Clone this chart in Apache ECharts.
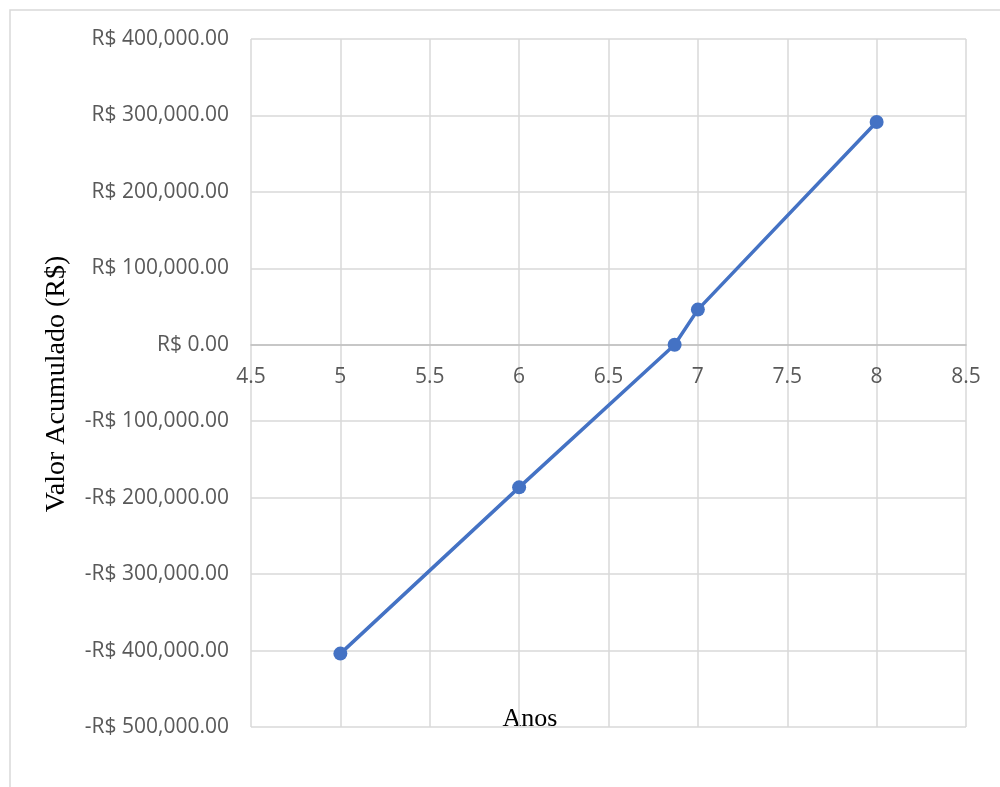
<!DOCTYPE html>
<html>
<head>
<meta charset="utf-8">
<script src="https://cdn.jsdelivr.net/npm/echarts@6/dist/echarts.min.js"></script>
<style>
  html, body { margin: 0; padding: 0; background: #fff; }
  #chart { width: 1000px; height: 787px; }
</style>
</head>
<body>
<div id="chart"></div>
<script>
// Anos (anos de projeto) e valor acumulado correspondente
const anos = [5, 6, 6.87, 7, 8];
const valorAcumulado = [-404000, -186500, 0, 46000, 291500];

const xTitulo = 'Anos';
const yTitulo = 'Valor Acumulado (R$)';

const yMin = -500000, yMax = 400000;
const gridTop = 39, gridBottom = 60, chartHeight = 787;

function formatReal(v) {
  const abs = Math.abs(v);
  const txt = abs === 0 ? '0.00' : abs.toLocaleString('en-US', { minimumFractionDigits: 2, maximumFractionDigits: 2 });
  return (v < 0 ? '-' : '') + 'R$ ' + txt;
}

// distance from the bottom of the grid up to the zero line, so the x axis crosses at 0
const gridH = chartHeight - gridTop - gridBottom;
const zeroOffset = gridH * (0 - yMin) / (yMax - yMin);

const chart = echarts.init(document.getElementById('chart'), null, { renderer: 'canvas' });

const labelFont = { color: '#595959', fontSize: 21, fontFamily: 'Open Sans, Noto Sans, sans-serif' };

chart.setOption({
  animation: false,
  backgroundColor: '#fff',
  grid: { left: 251, right: 34, top: gridTop, bottom: gridBottom },
  graphic: [
    {
      type: 'rect',
      shape: { x: 10, y: 10, width: 1100, height: 900 },
      style: { fill: 'none', stroke: '#d9d9d9', lineWidth: 1.5 },
      silent: true, z: -1
    },
    {
      type: 'text',
      x: 530, y: 706,
      style: { text: xTitulo, fill: '#000', font: '26px "Liberation Serif", serif', align: 'center', verticalAlign: 'top' }
    },
    {
      type: 'text',
      x: 57, y: 384,
      rotation: Math.PI / 2,
      style: { text: yTitulo, fill: '#000', font: '28px "Liberation Serif", serif', align: 'center', verticalAlign: 'middle' }
    }
  ],
  xAxis: {
    type: 'value',
    min: 4.5, max: 8.5, interval: 0.5,
    position: 'bottom',
    offset: -zeroOffset,
    axisLine: { show: true, onZero: false, lineStyle: { color: '#bfbfbf', width: 1.5 } },
    axisTick: { show: false },
    axisLabel: Object.assign({ margin: 22, showMinLabel: true, showMaxLabel: true }, labelFont),
    splitLine: { show: true, lineStyle: { color: '#d9d9d9', width: 1.5 } }
  },
  yAxis: {
    type: 'value',
    min: yMin, max: yMax, interval: 100000,
    axisLine: { show: false },
    axisTick: { show: false },
    axisLabel: Object.assign({ margin: 22, formatter: formatReal }, labelFont),
    splitLine: { show: true, lineStyle: { color: '#d9d9d9', width: 1.5 } }
  },
  series: [{
    type: 'line',
    data: anos.map((a, i) => [a, valorAcumulado[i]]),
    symbol: 'circle',
    symbolSize: 14,
    itemStyle: { color: '#4472C4' },
    lineStyle: { color: '#4472C4', width: 3.5 },
    z: 5
  }]
});
</script>
</body>
</html>
